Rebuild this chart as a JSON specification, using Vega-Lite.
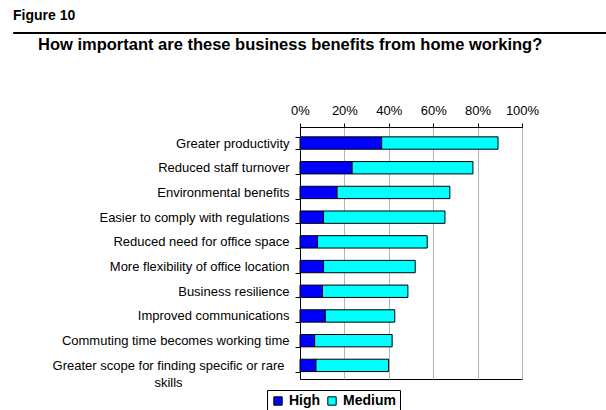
{
  "$schema": "https://vega.github.io/schema/vega-lite/v6.json",
  "padding": {"left": 12, "top": 8, "right": 0, "bottom": 0},
  "background": "white",
  "spacing": 2,
  "resolve": {"legend": {"color": "independent"}},
  "config": {
    "font": "Liberation Sans",
    "title": {"font": "Liberation Sans", "fontWeight": "bold", "color": "black", "anchor": "start", "frame": "group"}
  },
  "vconcat": [
    {
      "title": {"text": "Figure 10", "fontSize": 14, "offset": 9},
      "width": 594,
      "height": 1,
      "view": {"stroke": "black", "strokeWidth": 1, "fill": "black"},
      "data": {"values": []},
      "mark": "point"
    },
    {
      "spacing": 0,
      "resolve": {"legend": {"color": "independent"}},
      "hconcat": [
        {
          "width": 24,
          "height": 1,
          "view": {"stroke": null, "fill": null},
          "data": {"values": []},
          "mark": "point"
        },
        {
          "title": {"text": "How important are these business benefits from home working?", "fontSize": 16.5, "dx": -262, "offset": 51},
          "width": 222,
          "height": 252,
          "view": {"stroke": "black", "strokeWidth": 1},
          "data": {
            "values": [
              {"benefit": "Greater productivity", "level": "High", "pct": 36.8},
              {"benefit": "Greater productivity", "level": "Medium", "pct": 52.4},
              {"benefit": "Reduced staff turnover", "level": "High", "pct": 23.5},
              {"benefit": "Reduced staff turnover", "level": "Medium", "pct": 54.4},
              {"benefit": "Environmental benefits", "level": "High", "pct": 16.7},
              {"benefit": "Environmental benefits", "level": "Medium", "pct": 50.8},
              {"benefit": "Easier to comply with regulations", "level": "High", "pct": 10.6},
              {"benefit": "Easier to comply with regulations", "level": "Medium", "pct": 54.7},
              {"benefit": "Reduced need for office space", "level": "High", "pct": 7.9},
              {"benefit": "Reduced need for office space", "level": "Medium", "pct": 49.4},
              {"benefit": "More flexibility of office location", "level": "High", "pct": 10.6},
              {"benefit": "More flexibility of office location", "level": "Medium", "pct": 41.3},
              {"benefit": "Business resilience", "level": "High", "pct": 10.1},
              {"benefit": "Business resilience", "level": "Medium", "pct": 38.5},
              {"benefit": "Improved communications", "level": "High", "pct": 11.4},
              {"benefit": "Improved communications", "level": "Medium", "pct": 31.3},
              {"benefit": "Commuting time becomes working time", "level": "High", "pct": 6.6},
              {"benefit": "Commuting time becomes working time", "level": "Medium", "pct": 34.9},
              {"benefit": "Greater scope for finding specific or rare skills", "level": "High", "pct": 7.2},
              {"benefit": "Greater scope for finding specific or rare skills", "level": "Medium", "pct": 32.7}
            ]
          },
          "mark": {"type": "bar", "stroke": "black", "strokeWidth": 1},
          "encoding": {
            "y": {
              "field": "benefit",
              "type": "nominal",
              "sort": null,
              "scale": {"paddingInner": 0.5, "paddingOuter": 0.35, "align": 0.57},
              "axis": {
                "title": null,
                "tickBand": "extent",
                "tickSize": 5,
                "tickColor": "black",
                "domainColor": "black",
                "labelFontSize": 13,
                "labelColor": "black",
                "labelLimit": 320,
                "labelLineHeight": 17,
                "labelExpr": "datum.value == 'Greater scope for finding specific or rare skills' ? ['Greater scope for finding specific or rare', 'skills'] : datum.value",
                "labelAlign": {"condition": {"test": "datum.value == 'Greater scope for finding specific or rare skills'", "value": "center"}, "value": "right"},
                "labelPadding": {"condition": {"test": "datum.value == 'Greater scope for finding specific or rare skills'", "value": 127}, "value": 6}
              }
            },
            "x": {
              "field": "pct",
              "type": "quantitative",
              "stack": "zero",
              "scale": {"domain": [0, 100], "nice": false},
              "axis": {
                "orient": "top",
                "title": null,
                "values": [0, 20, 40, 60, 80, 100],
                "labelExpr": "datum.value + '%'",
                "labelFlush": false,
                "grid": true,
                "gridColor": "#b4b4b4",
                "gridWidth": 1,
                "domainColor": "black",
                "tickColor": "black",
                "tickSize": 4,
                "labelPadding": 6,
                "labelFontSize": 13,
                "labelColor": "black"
              }
            },
            "color": {
              "field": "level",
              "type": "nominal",
              "scale": {"domain": ["High", "Medium"], "range": ["#0000FF", "#00FFFF"]},
              "legend": {
                "orient": "none",
                "legendX": -33,
                "legendY": 263,
                "direction": "horizontal",
                "title": null,
                "strokeColor": "black",
                "fillColor": "white",
                "padding": 4,
                "symbolType": "square",
                "symbolSize": 70,
                "symbolStrokeColor": "black",
                "symbolStrokeWidth": 1,
                "symbolOpacity": 1,
                "labelFontSize": 14,
                "labelFontWeight": "bold",
                "labelColor": "black",
                "columnPadding": 4,
                "labelOffset": 4
              }
            }
          }
        }
      ]
    }
  ]
}
